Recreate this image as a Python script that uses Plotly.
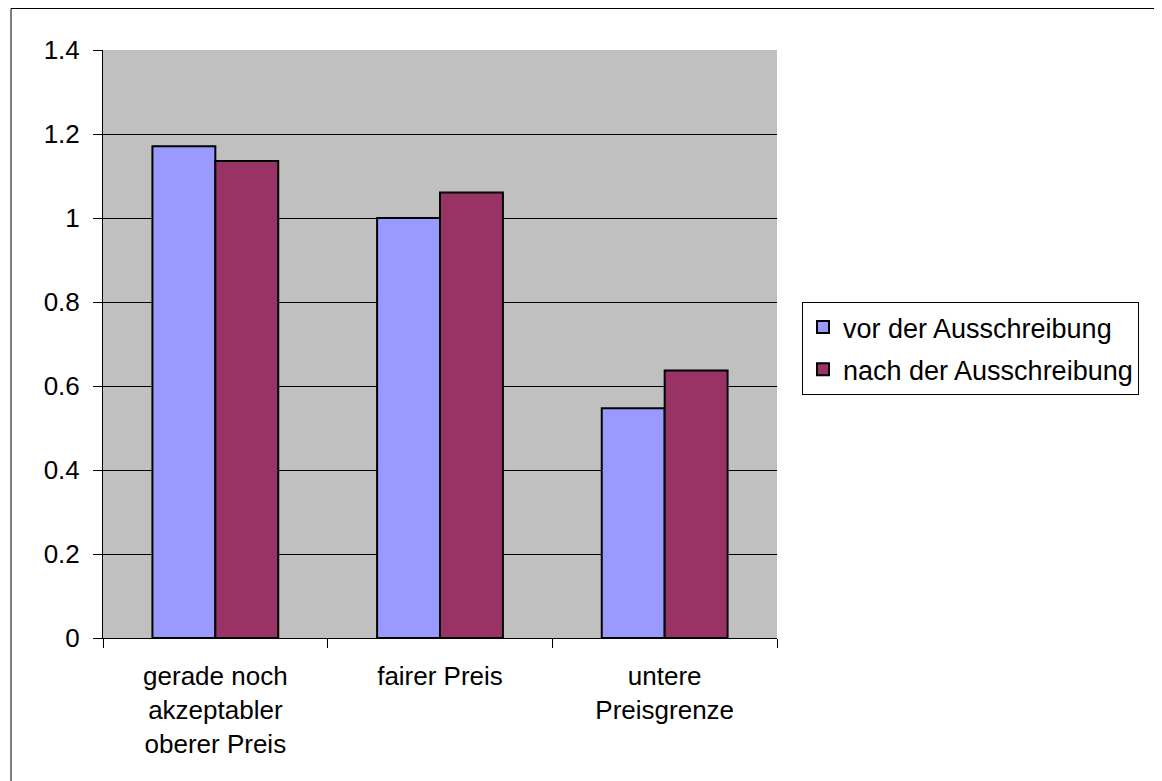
import plotly.graph_objects as go

categories = ["gerade noch<br>akzeptabler<br>oberer Preis", "fairer Preis", "untere<br>Preisgrenze"]
series_names = ["vor der Ausschreibung", "nach der Ausschreibung"]
vor_values = [1.171, 1.0, 0.547]
nach_values = [1.136, 1.061, 0.637]
y_ticks = [0, 0.2, 0.4, 0.6, 0.8, 1.0, 1.2, 1.4]
y_ticklabels = ["0", "0.2", "0.4", "0.6", "0.8", "1", "1.2", "1.4"]

FONT = "Liberation Sans, Arial, sans-serif"
FS = 26
OFF = 8  # page body margin
W, H = 1162 - OFF, 781 - OFF
L, R, T, B = 103 - OFF, 777 - OFF, 50 - OFF, 638 - OFF

fig = go.Figure()
fig.add_trace(go.Bar(x=categories, y=vor_values, name=series_names[0], legendgroup="a",
                     marker=dict(color="#9999FF", line=dict(color="black", width=2))))
fig.add_trace(go.Bar(x=categories, y=nach_values, name=series_names[1], legendgroup="b",
                     marker=dict(color="#993366", line=dict(color="black", width=2))))

pw = R - L
ph = B - T
fx0 = (11 - OFF - L) / pw
fy1 = 1 + (T - 0.5) / ph
fig.update_layout(
    width=W, height=H,
    margin=dict(l=L, r=W - R, t=T, b=H - B, autoexpand=False),
    paper_bgcolor="white",
    plot_bgcolor="#C0C0C0",
    barmode="group",
    bargap=0.44,
    bargroupgap=0,
    font=dict(family=FONT, size=FS, color="black"),
    showlegend=True,
    legend=dict(
        x=(802 - OFF - L) / pw, xanchor="left",
        y=1 - (302 - OFF - T) / ph, yanchor="top",
        bgcolor="white", bordercolor="black", borderwidth=1,
        font=dict(family=FONT, size=27, color="black"),
        tracegroupgap=4,
    ),
    xaxis=dict(
        showline=True, linecolor="black", linewidth=1,
        ticks="outside", ticklen=9, tickcolor="black",
        tickson="boundaries",
        ticklabelstandoff=15,
        showgrid=False,
        tickfont=dict(family=FONT, size=FS, color="black"),
    ),
    yaxis=dict(
        range=[0, 1.4],
        tickvals=y_ticks, ticktext=y_ticklabels,
        showline=True, linecolor="black", linewidth=1,
        ticks="outside", ticklen=9, tickcolor="black",
        ticklabelstandoff=8,
        showgrid=True, gridcolor="black", gridwidth=1,
        zeroline=False,
        tickfont=dict(family=FONT, size=FS, color="black"),
    ),
    shapes=[
        dict(type="line", xref="paper", yref="paper",
             x0=fx0, x1=fx0, y0=-(H + 20 - B) / ph, y1=fy1,
             line=dict(color="black", width=1), layer="above"),
        dict(type="line", xref="paper", yref="paper",
             x0=fx0, x1=(W + 20 - L) / pw, y0=fy1, y1=fy1,
             line=dict(color="black", width=1), layer="above"),
    ],
)

fig.write_html("out.html", config={"displayModeBar": False},
               post_script="document.body.style.overflow='hidden';")
